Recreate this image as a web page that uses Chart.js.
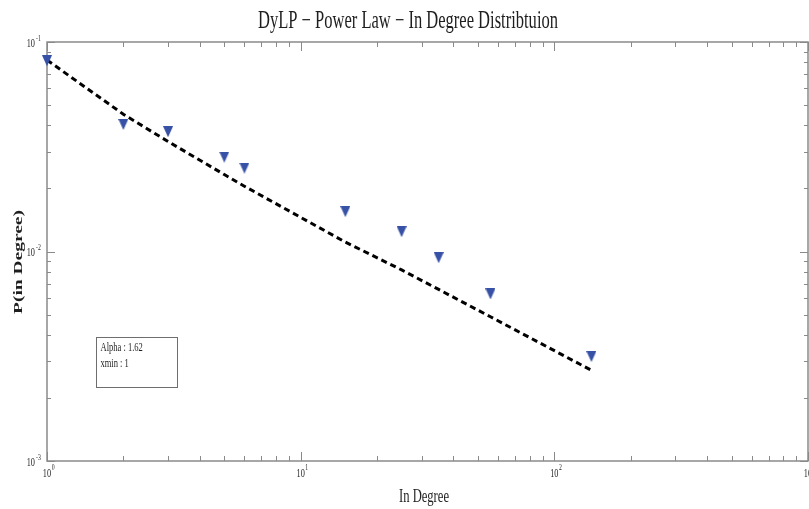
<!DOCTYPE html>
<html>
<head>
<meta charset="utf-8">
<script src="https://cdn.jsdelivr.net/npm/chart.js@4/dist/chart.umd.min.js"></script>
<style>
  html, body { margin: 0; padding: 0; background: #ffffff; overflow: hidden; }
  #wrap { width: 809px; height: 509px; }
  canvas { display: block; }
</style>
</head>
<body>
<div id="wrap"><canvas id="c" width="809" height="509"></canvas></div>
<script>
// ---- data ----
const degree = [1, 2, 3, 5, 6, 15, 25, 35, 56, 140];
const probability = [0.0814, 0.0404, 0.0373, 0.0282, 0.0250, 0.0155, 0.01243, 0.00934, 0.00627, 0.00315];
const fitDegree = [1, 2, 3, 5, 6, 15, 25, 35, 56, 140];
const fitProbability = [0.0820, 0.0452, 0.0335, 0.0233, 0.0205, 0.01109, 0.00817, 0.00659, 0.00488, 0.00271];
const xDecadeExponents = [0, 1, 2, 3];
const yDecadeExponents = [-1, -2, -3];
const titleText = 'DyLP \u2212 Power Law \u2212 In Degree Distribtuion';
const xAxisTitle = 'In Degree';
const yAxisTitle = 'P(in Degree)';
const annotationLines = ['Alpha : 1.62', 'xmin : 1'];

// ---- styles ----
const AXIS_COLOR = '#8a8a8a';
const TEXT_COLOR = '#1e1e1e';
const MARK_COLOR = '#3651a6';
const SERIF = '"Liberation Serif", "Times New Roman", serif';

// downward triangle marker (slightly taller than wide)
const tri = document.createElement('canvas');
tri.width = 10; tri.height = 11;
(function () {
  const t = tri.getContext('2d');
  t.fillStyle = MARK_COLOR;
  t.beginPath();
  t.moveTo(0, 0); t.lineTo(10, 0); t.lineTo(5, 11); t.closePath();
  t.fill();
})();

function sText(ctx, str, x, y, font, align, sx) {
  ctx.save();
  ctx.font = font;
  ctx.fillStyle = TEXT_COLOR;
  ctx.textBaseline = 'alphabetic';
  ctx.translate(x, y);
  ctx.scale(sx, 1);
  ctx.textAlign = align;
  ctx.fillText(str, 0, 0);
  ctx.restore();
}
function textW(ctx, str, font) {
  ctx.save(); ctx.font = font; const w = ctx.measureText(str).width; ctx.restore(); return w;
}
function supExp(n) {
  return n < 0 ? '-' + Math.abs(n) : String(n);
}

const frame = {
  id: 'frame',
  beforeDatasetsDraw(chart) {
    const ctx = chart.ctx;
    const a = chart.chartArea;
    const xs = chart.scales.x, ys = chart.scales.y;
    ctx.save();
    ctx.strokeStyle = AXIS_COLOR;
    ctx.lineWidth = 1.5;
    ctx.strokeRect(a.left, a.top, a.right - a.left, a.bottom - a.top);
    ctx.lineWidth = 1;
    // x ticks (bottom and top, inward)
    for (let d = 0; d <= 3; d++) {
      for (let k = 1; k <= 9; k++) {
        if (d === 3 && k > 1) break;
        const v = k * Math.pow(10, d);
        const px = Math.round(xs.getPixelForValue(v)) + 0.5;
        const len = k === 1 ? 9 : 5;
        ctx.beginPath();
        ctx.moveTo(px, a.bottom); ctx.lineTo(px, a.bottom - len);
        ctx.moveTo(px, a.top); ctx.lineTo(px, a.top + len);
        ctx.stroke();
      }
    }
    // y ticks (left and right, inward)
    for (let d = -3; d <= -1; d++) {
      for (let k = 1; k <= 9; k++) {
        if (d === -1 && k > 1) break;
        const v = k * Math.pow(10, d);
        const py = Math.round(ys.getPixelForValue(v)) + 0.5;
        const len = k === 1 ? 8 : 4;
        ctx.beginPath();
        ctx.moveTo(a.left, py); ctx.lineTo(a.left + len, py);
        ctx.moveTo(a.right, py); ctx.lineTo(a.right - len, py);
        ctx.stroke();
      }
    }
    ctx.restore();
  },
  afterDraw(chart) {
    const ctx = chart.ctx;
    const a = chart.chartArea;
    const xs = chart.scales.x, ys = chart.scales.y;
    const baseFont = '11.5px ' + SERIF;
    const expFont = '8px ' + SERIF;
    const SX = 0.72;
    // x tick labels
    xDecadeExponents.forEach(e => {
      const px = xs.getPixelForValue(Math.pow(10, e));
      const w = textW(ctx, '10', baseFont) * SX;
      sText(ctx, '10', px, a.bottom + 15.5, baseFont, 'center', SX);
      sText(ctx, supExp(e), px + w / 2 + 0.5, a.bottom + 9, expFont, 'left', SX);
    });
    // y tick labels
    yDecadeExponents.forEach(e => {
      const py = ys.getPixelForValue(Math.pow(10, e));
      sText(ctx, '10', a.left - 12, py + 4.5, baseFont, 'right', SX);
      sText(ctx, supExp(e), a.left - 11, py - 1.5, expFont, 'left', SX);
    });
    // title
    const tFont = '25px ' + SERIF;
    const tsx = 300 / textW(ctx, titleText, tFont);
    sText(ctx, titleText, 408, 28, tFont, 'center', tsx);
    // x axis title
    const xFont = '18px ' + SERIF;
    const xsx = 50 / textW(ctx, xAxisTitle, xFont);
    sText(ctx, xAxisTitle, 424, 502, xFont, 'center', xsx);
    // y axis title (rotated)
    const yFont = 'bold 18px ' + SERIF;
    const ylen = 104 / textW(ctx, yAxisTitle, yFont);
    ctx.save();
    ctx.translate(21.5, 262);
    ctx.rotate(-Math.PI / 2);
    ctx.scale(ylen, 0.72);
    ctx.font = yFont;
    ctx.fillStyle = TEXT_COLOR;
    ctx.textAlign = 'center';
    ctx.textBaseline = 'alphabetic';
    ctx.fillText(yAxisTitle, 0, 0);
    ctx.restore();
    // annotation box
    ctx.save();
    ctx.strokeStyle = '#6e6e6e';
    ctx.lineWidth = 1;
    ctx.strokeRect(96.5, 337.5, 81, 50);
    ctx.restore();
    const aFont = '11.5px ' + SERIF;
    sText(ctx, annotationLines[0], 100.5, 350.5, aFont, 'left', 0.74);
    sText(ctx, annotationLines[1], 100.5, 366.5, aFont, 'left', 0.74);
  }
};

const fitPoints = fitDegree.map((x, i) => ({ x: x, y: fitProbability[i] }));
const dataPoints = degree.map((x, i) => ({ x: x, y: probability[i] }));

new Chart(document.getElementById('c'), {
  type: 'scatter',
  data: {
    datasets: [
      {
        label: 'Power law fit',
        data: fitPoints,
        showLine: true,
        borderColor: '#000000',
        borderWidth: 3,
        borderDash: [6, 4],
        pointRadius: 0,
        fill: false,
        tension: 0,
        clip: false,
        order: 2
      },
      {
        label: 'In Degree',
        data: dataPoints,
        showLine: false,
        pointStyle: tri,
        pointRadius: 6,
        pointHoverRadius: 6,
        clip: false,
        order: 1
      }
    ]
  },
  options: {
    responsive: false,
    animation: false,
    events: [],
    layout: { autoPadding: false, padding: { left: 47, right: 1, top: 42, bottom: 48 } },
    scales: {
      x: { type: 'logarithmic', min: 1, max: 1000, display: false },
      y: { type: 'logarithmic', min: 0.001, max: 0.1, display: false }
    },
    plugins: {
      legend: { display: false },
      tooltip: { enabled: false },
      title: { display: false }
    }
  },
  plugins: [frame]
});
</script>
</body>
</html>
